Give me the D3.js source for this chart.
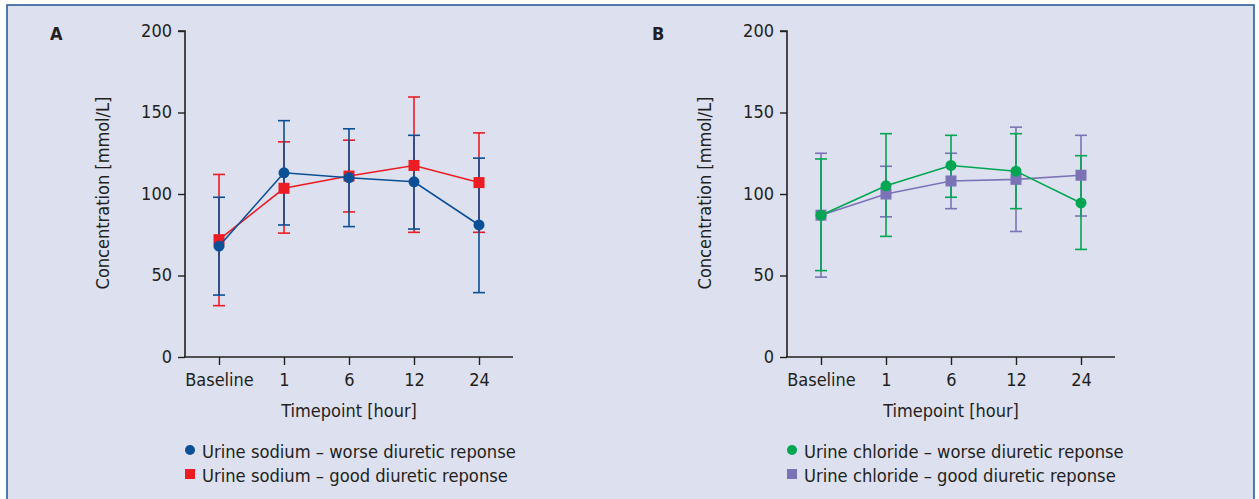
<!DOCTYPE html>
<html>
<head>
<meta charset="utf-8">
<script src="https://cdn.jsdelivr.net/npm/d3@7"></script>
<style>
  html, body { margin: 0; padding: 0; background: #fff; }
  svg { display: block; }
  text { font-family: "DejaVu Sans Condensed", "Liberation Sans Narrow", sans-serif; fill: #231f20; }
</style>
</head>
<body>
<svg id="chart" width="1259" height="499"></svg>
<script>
// categories on the x axis
const timepoints = ['Baseline', '1', '6', '12', '24'];
const yTicks = [0, 50, 100, 150, 200];

// panel A: urine sodium
const sodiumWorse = [68, 113, 110, 107.5, 81];
const sodiumWorseLo = [38, 81, 80, 78.5, 39.5];
const sodiumWorseHi = [98, 145, 140, 136, 122];
const sodiumGood = [72, 103.5, 111, 117.5, 107];
const sodiumGoodLo = [31.5, 76, 89, 76.5, 76.5];
const sodiumGoodHi = [112, 132, 133, 159.5, 137.5];

// panel B: urine chloride
const chlorideWorse = [87, 105, 117.5, 114, 94.5];
const chlorideWorseLo = [53, 74, 98, 91, 66];
const chlorideWorseHi = [121.5, 137, 136, 137, 123.5];
const chlorideGood = [87, 100, 108, 109, 111.5];
const chlorideGoodLo = [49, 86, 91, 77, 86.5];
const chlorideGoodHi = [125, 117, 125, 141, 136];

const svg = d3.select('#chart');

// background frame
svg.append('rect')
  .attr('x', 7).attr('y', 5)
  .attr('width', 1247).attr('height', 500)
  .attr('fill', '#dde0ef')
  .attr('stroke', '#2b5c9c')
  .attr('stroke-width', 1.6);

function drawPanel(ox, letter, series, legendLabels) {
  const g = svg.append('g').attr('transform', `translate(${ox},0)`);

  const x = d3.scalePoint().domain(timepoints).range([34, 294]);
  const y = d3.scaleLinear().domain([0, 200]).range([357, 31]);

  const yAxis = g.append('g')
    .call(d3.axisLeft(y).tickValues(yTicks).tickSize(7).tickPadding(6));
  const xAxis = g.append('g')
    .attr('transform', 'translate(0,357)')
    .call(d3.axisBottom(x).tickSize(8).tickPadding(8));
  xAxis.select('.domain').attr('d', 'M-1,0H328');

  [yAxis, xAxis].forEach(a => {
    a.select('.domain').attr('stroke', '#231f20').attr('stroke-width', 1.6);
    a.selectAll('.tick line').attr('stroke', '#231f20').attr('stroke-width', 1.4);
    a.selectAll('.tick text')
      .style('font-family', '"DejaVu Sans Condensed", "Liberation Sans Narrow", sans-serif')
      .attr('font-size', 18).attr('fill', '#231f20');
  });
  yAxis.select('.domain').attr('d', 'M-7,31H0V357');
  yAxis.selectAll('.tick text').attr('dy', '0.3em');

  g.append('text')
    .attr('transform', `translate(-76,193) rotate(-90)`)
    .attr('text-anchor', 'middle')
    .attr('font-size', 18)
    .text('Concentration [mmol/L]');

  g.append('text')
    .attr('x', 164).attr('y', 417)
    .attr('text-anchor', 'middle')
    .attr('font-size', 18)
    .text('Timepoint [hour]');

  g.append('text')
    .attr('x', -135).attr('y', 40)
    .attr('font-size', 18)
    .attr('font-weight', 'bold')
    .text(letter);

  const line = d3.line().x((d, i) => x(timepoints[i])).y(d => y(d));

  series.forEach(s => {
    // error bars
    const eb = g.append('g');
    timepoints.forEach((t, i) => {
      const cx = x(t);
      eb.append('line')
        .attr('x1', cx).attr('x2', cx)
        .attr('y1', y(s.lo[i])).attr('y2', y(s.hi[i]))
        .attr('stroke', s.color).attr('stroke-width', 1.6);
      [s.lo[i], s.hi[i]].forEach(v => {
        eb.append('line')
          .attr('x1', cx - 6).attr('x2', cx + 6)
          .attr('y1', y(v)).attr('y2', y(v))
          .attr('stroke', s.color).attr('stroke-width', 1.6);
      });
    });
  });

  series.forEach(s => {
    g.append('path')
      .datum(s.values)
      .attr('d', line)
      .attr('fill', 'none')
      .attr('stroke', s.color)
      .attr('stroke-width', 1.6);

    s.values.forEach((v, i) => {
      if (s.shape === 'circle') {
        g.append('circle')
          .attr('cx', x(timepoints[i])).attr('cy', y(v)).attr('r', 5.5)
          .attr('fill', s.color);
      } else {
        g.append('rect')
          .attr('x', x(timepoints[i]) - 5.5).attr('y', y(v) - 5.5)
          .attr('width', 11).attr('height', 11)
          .attr('fill', s.color);
      }
    });
  });

  // legend
  series.slice().sort((a, b) => a.order - b.order).forEach((s, i) => {
    const ly = 451 + i * 24;
    if (s.shape === 'circle') {
      g.append('circle').attr('cx', 5).attr('cy', ly - 1).attr('r', 5).attr('fill', s.color);
    } else {
      g.append('rect').attr('x', 0).attr('y', ly - 6).attr('width', 10).attr('height', 10).attr('fill', s.color);
    }
    g.append('text')
      .attr('x', 17).attr('y', ly + 7)
      .attr('font-size', 18.2)
      .text(legendLabels[s.order]);
  });
}

drawPanel(185, 'A', [
  { values: sodiumGood, lo: sodiumGoodLo, hi: sodiumGoodHi, color: '#ed1c24', shape: 'square', order: 1 },
  { values: sodiumWorse, lo: sodiumWorseLo, hi: sodiumWorseHi, color: '#0b4f96', shape: 'circle', order: 0 }
], ['Urine sodium \u2013 worse diuretic reponse', 'Urine sodium \u2013 good diuretic reponse']);

drawPanel(787, 'B', [
  { values: chlorideGood, lo: chlorideGoodLo, hi: chlorideGoodHi, color: '#7b73b6', shape: 'square', order: 1 },
  { values: chlorideWorse, lo: chlorideWorseLo, hi: chlorideWorseHi, color: '#00a651', shape: 'circle', order: 0 }
], ['Urine chloride \u2013 worse diuretic reponse', 'Urine chloride \u2013 good diuretic reponse']);
</script>
</body>
</html>
